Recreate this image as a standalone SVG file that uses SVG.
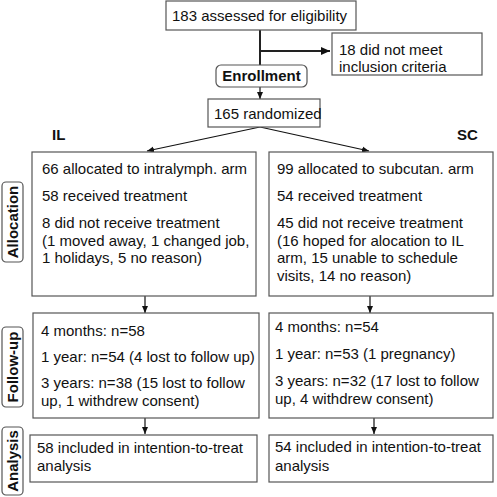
<svg xmlns="http://www.w3.org/2000/svg" width="497" height="497" viewBox="0 0 497 497">
<style>
.box{fill:#fff;stroke:#555;stroke-width:1.2}
.lab{fill:#fff;stroke:#555;stroke-width:1.2}
text{font-family:"Liberation Sans",Arial,sans-serif;font-size:15px;fill:#111}
.b{font-weight:bold}
.ln{stroke:#111;stroke-width:1.2;fill:none}
.lnb{stroke:#222;stroke-width:2;fill:none}
</style>
<defs>
<marker id="ah" markerWidth="8" markerHeight="8" refX="7" refY="4" orient="auto" markerUnits="userSpaceOnUse">
<path d="M0,1 L7,4 L0,7 z" fill="#111"/>
</marker>
<marker id="ahb" markerWidth="10" markerHeight="10" refX="9" refY="5" orient="auto" markerUnits="userSpaceOnUse">
<path d="M0,1 L9,5 L0,9 z" fill="#111"/>
</marker>
</defs>
<g id="connectors">
<line class="lnb" x1="260" y1="30" x2="260" y2="65"/>
<line class="lnb" x1="260" y1="51" x2="330" y2="51" marker-end="url(#ahb)"/>
<line class="ln" x1="260" y1="87" x2="260" y2="99" marker-end="url(#ah)"/>
<line class="ln" x1="260" y1="127" x2="147" y2="151" marker-end="url(#ah)"/>
<line class="ln" x1="260" y1="127" x2="369" y2="151" marker-end="url(#ah)"/>
<line class="ln" x1="145" y1="296" x2="145" y2="313" marker-end="url(#ah)"/>
<line class="ln" x1="370" y1="296" x2="370" y2="313" marker-end="url(#ah)"/>
<line class="ln" x1="145" y1="418" x2="145" y2="434" marker-end="url(#ah)"/>
<line class="ln" x1="374" y1="418" x2="374" y2="434" marker-end="url(#ah)"/>
</g>
<g id="assessed">
<rect class="box" x="166" y="1" width="190" height="29"/>
<text x="172" y="21">183 assessed for eligibility</text>
</g>
<g id="excluded">
<rect class="box" x="332" y="33" width="150" height="42"/>
<text x="339" y="55">18 did not meet</text>
<text x="339" y="72">inclusion criteria</text>
</g>
<g id="enrollment">
<rect class="lab" x="216" y="65" width="91" height="22" rx="5"/>
<text class="b" x="261.5" y="81" text-anchor="middle">Enrollment</text>
</g>
<g id="randomized">
<rect class="box" x="208" y="99" width="112" height="28"/>
<text x="214" y="119">165 randomized</text>
</g>
<g id="il-label"><text class="b" x="52" y="140">IL</text></g>
<g id="sc-label"><text class="b" x="457" y="140">SC</text></g>
<g id="allocation-label">
<rect class="lab" x="2" y="182" width="21" height="80" rx="4"/>
<text class="b" transform="translate(18,222) rotate(-90)" text-anchor="middle">Allocation</text>
</g>
<g id="followup-label">
<rect class="lab" x="2" y="327" width="21" height="80" rx="4"/>
<text class="b" transform="translate(18,367) rotate(-90)" text-anchor="middle">Follow-up</text>
</g>
<g id="analysis-label">
<rect class="lab" x="2" y="427" width="21" height="68" rx="4"/>
<text class="b" transform="translate(18,461) rotate(-90)" text-anchor="middle">Analysis</text>
</g>
<g id="il-allocation">
<rect class="box" x="32" y="152" width="224" height="144"/>
<text x="42" y="174">66 allocated to intralymph. arm</text>
<text x="42" y="201">58 received treatment</text>
<text x="42" y="228">8 did not receive treatment</text>
<text x="42" y="245.5">(1 moved away, 1 changed job,</text>
<text x="42" y="263">1 holidays, 5 no reason)</text>
</g>
<g id="sc-allocation">
<rect class="box" x="269" y="152" width="224" height="144"/>
<text x="277" y="174">99 allocated to subcutan. arm</text>
<text x="277" y="201">54 received treatment</text>
<text x="277" y="228">45 did not receive treatment</text>
<text x="277" y="245.5">(16 hoped for alocation to IL</text>
<text x="277" y="263">arm, 15 unable to schedule</text>
<text x="277" y="280.5">visits, 14 no reason)</text>
</g>
<g id="il-followup">
<rect class="box" x="33" y="313" width="226" height="105"/>
<text x="41" y="336">4 months: n=58</text>
<text x="41" y="362">1 year: n=54 (4 lost to follow up)</text>
<text x="41" y="388">3 years: n=38 (15 lost to follow</text>
<text x="41" y="405.5">up, 1 withdrew consent)</text>
</g>
<g id="sc-followup">
<rect class="box" x="269" y="313" width="224" height="105"/>
<text x="275" y="332">4 months: n=54</text>
<text x="275" y="359">1 year: n=53 (1 pregnancy)</text>
<text x="275" y="386">3 years: n=32 (17 lost to follow</text>
<text x="275" y="403.5">up, 4 withdrew consent)</text>
</g>
<g id="il-analysis">
<rect class="box" x="30" y="435" width="227" height="47"/>
<text x="37" y="453">58 included in intention-to-treat</text>
<text x="37" y="471">analysis</text>
</g>
<g id="sc-analysis">
<rect class="box" x="269" y="435" width="224" height="47"/>
<text x="275" y="452">54 included in intention-to-treat</text>
<text x="275" y="471">analysis</text>
</g>
</svg>
